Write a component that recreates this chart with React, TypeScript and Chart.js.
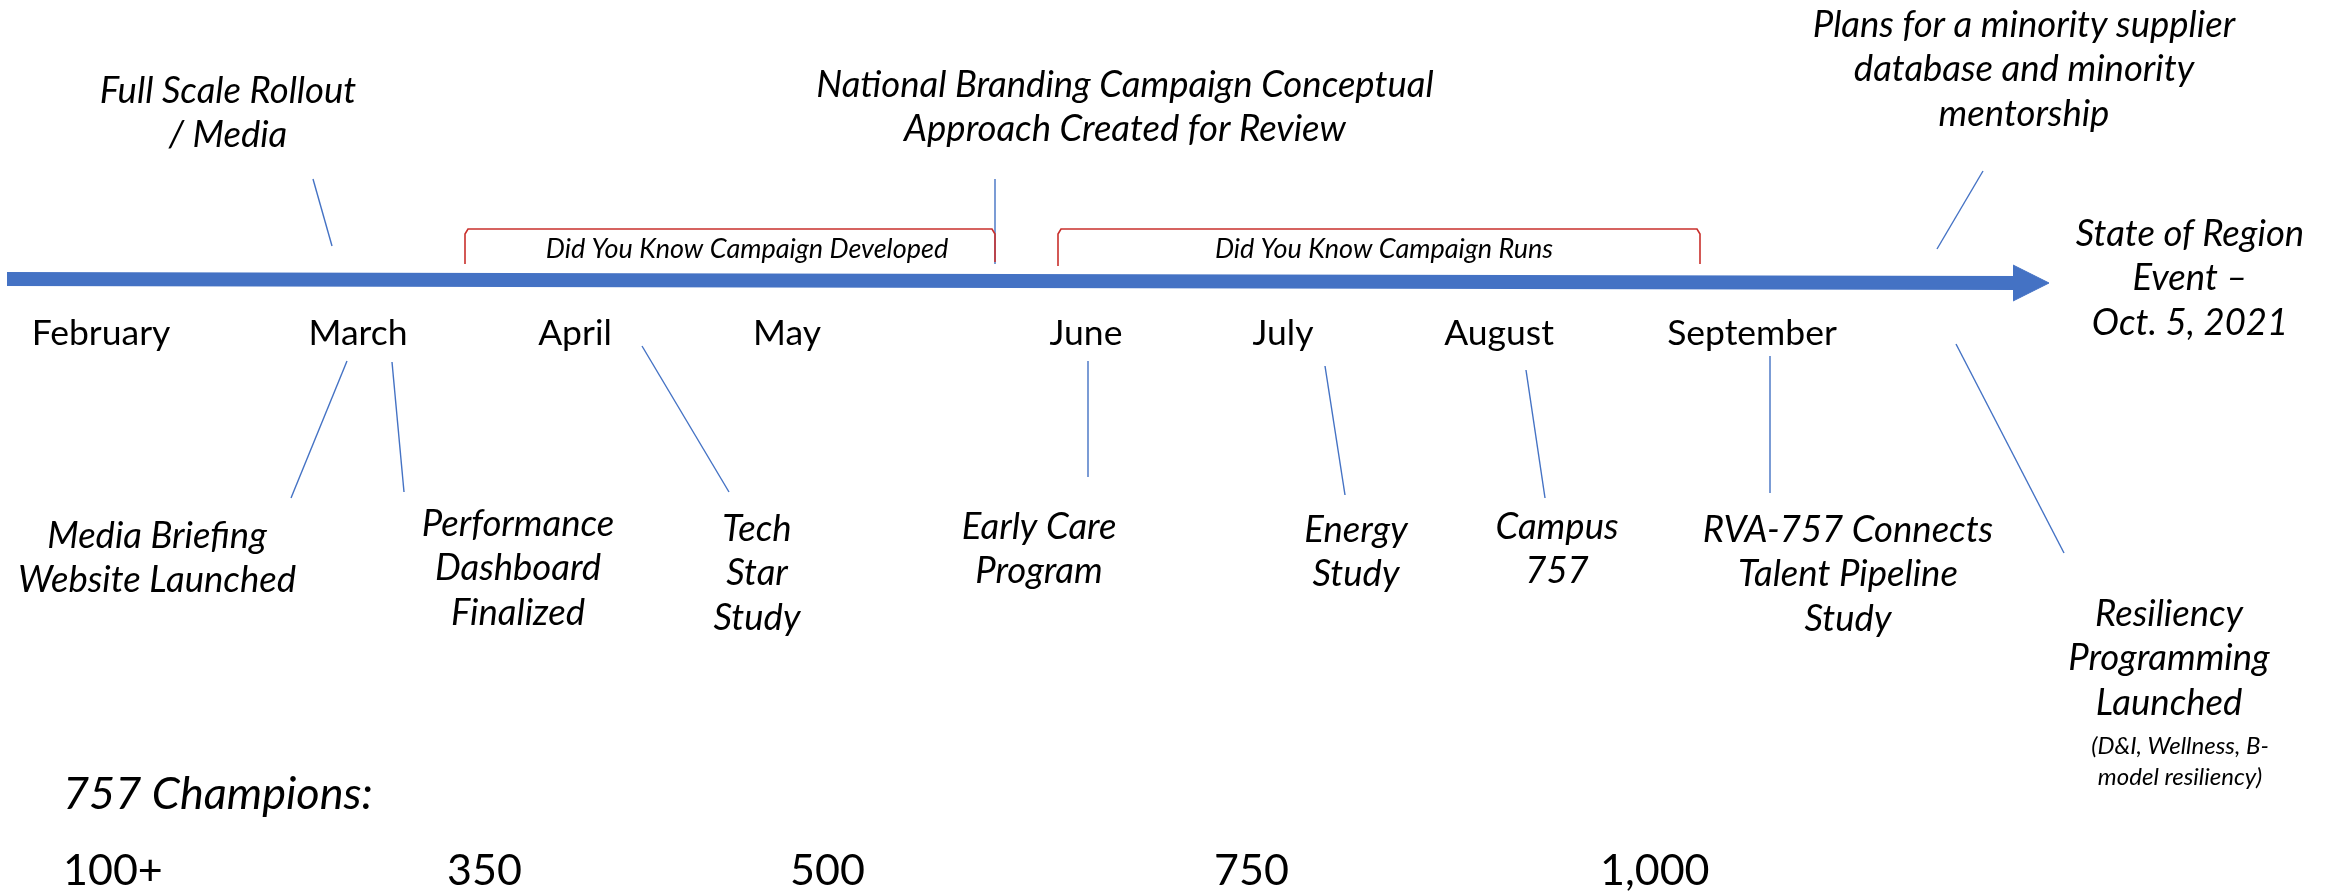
import React, { useEffect, useRef } from 'react';
import { Chart, registerables } from 'chart.js';

Chart.register(...registerables);

const W = 2336;
const H = 896;

// ---- Timeline months ----
const monthLabels = ['February', 'March', 'April', 'May', 'June', 'July', 'August', 'September'];
const monthPos = [101, 358, 575, 787, 1086, 1283, 1499, 1752];
const monthRow = 334;

// ---- Main timeline arrow ----
const arrowStart = [7, 279];
const arrowEnd = [2015, 283];
const arrowHead = [2013, 2049, 265, 301]; // base x, tip x, top y, bottom y

// ---- Campaign spans (brackets) ----
const spanLabels = ['Did You Know Campaign Developed', 'Did You Know Campaign Runs'];
const spanStart = [465, 1058];
const spanEnd = [995, 1700];
const spanLabelX = [747, 1384];
const spanTop = 229;
const spanBottom = [264, 266];
const spanLabelRow = 249;

// ---- Milestone events ----
const eventTexts = [
  ['Full Scale Rollout', '/ Media'],
  ['National Branding Campaign Conceptual', 'Approach Created for Review'],
  ['Plans for a minority supplier', 'database and minority', 'mentorship'],
  ['Media Briefing', 'Website Launched'],
  ['Performance', 'Dashboard', 'Finalized'],
  ['Tech', 'Star', 'Study'],
  ['Early Care', 'Program'],
  ['Energy', 'Study'],
  ['Campus', '757'],
  ['RVA-757 Connects', 'Talent Pipeline', 'Study'],
  ['Resiliency', 'Programming', 'Launched'],
];
const eventX = [228, 1125, 2024, 157, 518, 757, 1039, 1356, 1557, 1848, 2169];
const eventY = [91, 85, 25, 536, 524, 529, 527, 530, 527, 530, 614];
const connectorFromX = [313, 995, 1983, 347, 392, 642, 1088, 1325, 1526, 1770, 1956];
const connectorFromY = [179, 179, 171, 361, 362, 346, 361, 366, 370, 356, 344];
const connectorToX = [332, 995, 1937, 291, 404, 729, 1088, 1345, 1545, 1770, 2064];
const connectorToY = [246, 264, 249, 498, 492, 492, 477, 495, 498, 493, 553];

const noteTexts = ['(D&I, Wellness, B-', 'model resiliency)'];
const noteX = 2180;
const noteY = [746, 777];

// ---- End event ----
const finalTexts = ['State of Region', 'Event –', 'Oct. 5, 2021'];
const finalX = 2190;
const finalY = 234;

// ---- 757 Champions ----
const championsTitle = '757 Champions:';
const championsTitlePos = [63, 794];
const championLabels = ['100+', '350', '500', '750', '1,000'];
const championPos = [63, 447, 790, 1214, 1600];
const championRow = 871;

const BLUE = '#4472C4';
const RED = '#C9302C';
const FONT = 'Lato, "Open Sans", sans-serif';
const LINE_GAP = 44.5;

const textPlugin = {
  id: 'timelineText',
  afterDatasetsDraw(chart: any) {
    const { ctx, scales } = chart;
    const X = (v: number) => scales.x.getPixelForValue(v);
    const Y = (v: number) => scales.y.getPixelForValue(v);
    ctx.save();
    ctx.fillStyle = '#000';
    ctx.textBaseline = 'middle';

    // months
    ctx.font = `35.5px ${FONT}`;
    ctx.textAlign = 'center';
    monthLabels.forEach((m, i) => ctx.fillText(m, X(monthPos[i]), Y(monthRow)));

    // span labels
    ctx.font = `italic 27px ${FONT}`;
    spanLabels.forEach((s, i) => ctx.fillText(s, X(spanLabelX[i]), Y(spanLabelRow)));

    // events
    ctx.font = `italic 36.5px ${FONT}`;
    eventTexts.forEach((lines, i) => {
      lines.forEach((ln, j) => ctx.fillText(ln, X(eventX[i]), Y(eventY[i] + j * LINE_GAP)));
    });
    finalTexts.forEach((ln, j) => ctx.fillText(ln, X(finalX), Y(finalY + j * LINE_GAP)));

    ctx.font = `italic 24px ${FONT}`;
    noteTexts.forEach((ln, j) => ctx.fillText(ln, X(noteX), Y(noteY[j])));

    // champions
    ctx.textAlign = 'left';
    ctx.font = `italic 45px ${FONT}`;
    ctx.fillText(championsTitle, X(championsTitlePos[0]), Y(championsTitlePos[1]));
    ctx.font = `43px ${FONT}`;
    championLabels.forEach((c, i) => ctx.fillText(c, X(championPos[i]), Y(championRow)));
    ctx.restore();
  },
};

function buildDatasets() {
  const ds: any[] = [];
  const base = { showLine: true, pointRadius: 0, fill: false, clip: false };
  // shaft
  ds.push({
    ...base,
    data: [{ x: arrowStart[0], y: arrowStart[1] }, { x: arrowEnd[0], y: arrowEnd[1] }],
    borderColor: BLUE,
    borderWidth: 14,
    borderCapStyle: 'butt',
  });
  // head (two halves filled to the axis line)
  const mid = (arrowHead[2] + arrowHead[3]) / 2;
  [arrowHead[2], arrowHead[3]].forEach((edgeY) => {
    ds.push({
      ...base,
      data: [{ x: arrowHead[0], y: edgeY }, { x: arrowHead[1], y: mid }],
      borderColor: BLUE,
      backgroundColor: BLUE,
      borderWidth: 1,
      fill: { value: mid },
    });
  });
  // brackets
  spanStart.forEach((s, i) => {
    const e = spanEnd[i];
    ds.push({
      ...base,
      data: [
        { x: s, y: spanBottom[i] },
        { x: s, y: spanTop + 5 },
        { x: s + 3, y: spanTop },
        { x: e - 3, y: spanTop },
        { x: e, y: spanTop + 5 },
        { x: e, y: spanBottom[i] - 2 },
      ],
      borderColor: RED,
      borderWidth: 1.6,
    });
  });
  // connectors
  connectorFromX.forEach((fx, i) => {
    ds.push({
      ...base,
      data: [{ x: fx, y: connectorFromY[i] }, { x: connectorToX[i], y: connectorToY[i] }],
      borderColor: BLUE,
      borderWidth: 1.4,
    });
  });
  return ds;
}

export default function App() {
  const ref = useRef<HTMLCanvasElement | null>(null);
  useEffect(() => {
    document.body.style.margin = '0';
    document.body.style.background = '#fff';
    const chart = new Chart(ref.current as HTMLCanvasElement, {
      type: 'scatter',
      data: { datasets: buildDatasets() },
      options: {
        animation: false,
        responsive: false,
        devicePixelRatio: 1,
        layout: { padding: 0 },
        events: [],
        scales: {
          x: { type: 'linear', min: 0, max: W, display: false },
          y: { type: 'linear', min: 0, max: H, reverse: true, display: false },
        },
        plugins: { legend: { display: false }, tooltip: { enabled: false } },
      },
      plugins: [textPlugin],
    });
    return () => chart.destroy();
  }, []);
  return (
    <div style={{ width: W, height: H, background: '#fff' }}>
      <canvas ref={ref} width={W} height={H} style={{ display: 'block' }} />
    </div>
  );
}
